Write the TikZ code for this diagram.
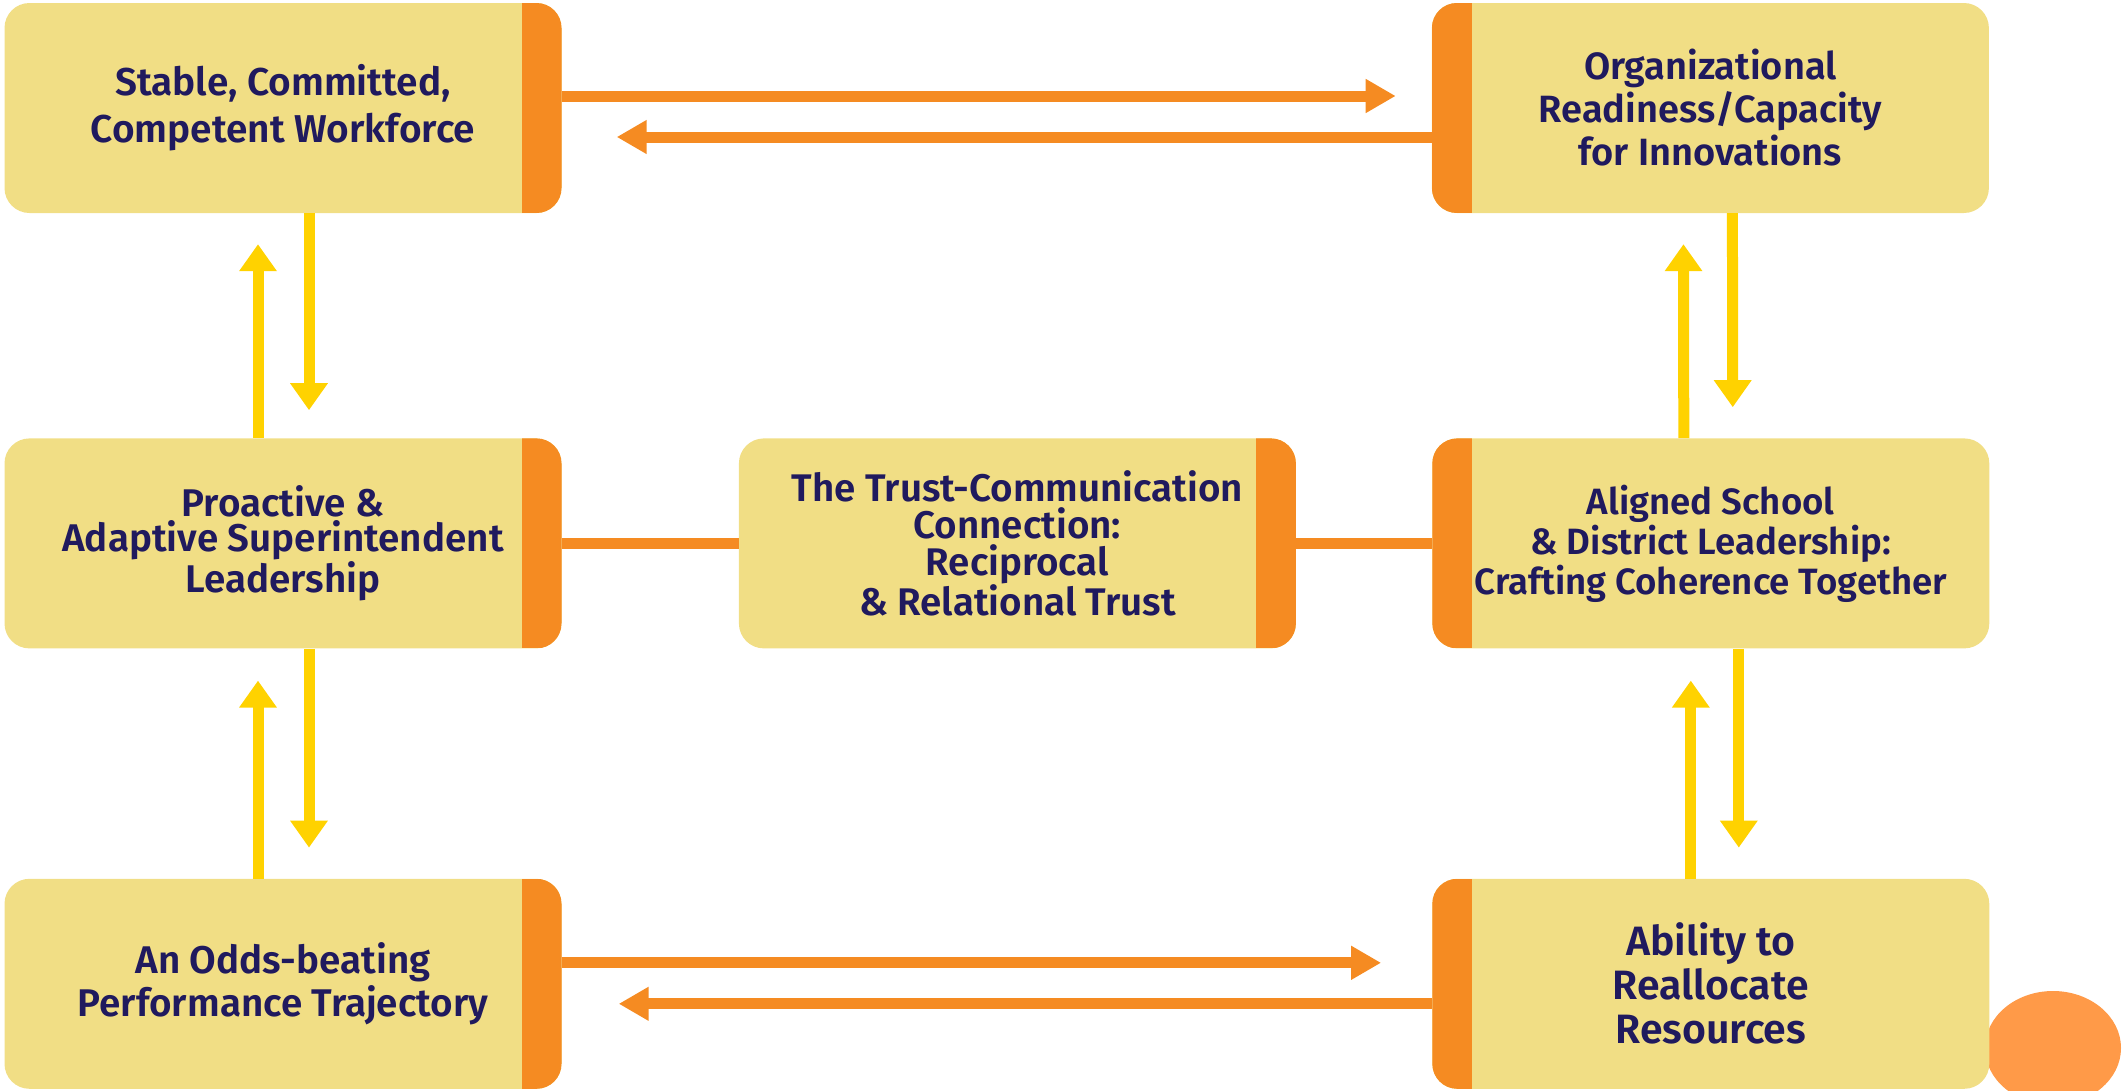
\documentclass[tikz,border=0pt]{standalone}
\usepackage{fontspec}
\setmainfont{Fira Sans}[BoldFont={Fira Sans SemiBold}]
\usetikzlibrary{arrows.meta,positioning}

\definecolor{boxfill}{HTML}{F1DE85}
\definecolor{bandorange}{HTML}{F58B22}
\definecolor{arrowyellow}{HTML}{FFD200}
\definecolor{navy}{HTML}{201A5E}
\definecolor{dotorange}{HTML}{FF9A48}

\tikzset{
  box/.style={rounded corners=25pt, fill=boxfill, minimum width=557pt,
    minimum height=210pt, inner sep=0pt, align=center, text=navy,
    font=\bfseries\fontsize{38}{43}\selectfont},
  lines/.style 2 args={font=\bfseries\fontsize{#1}{#2}\selectfont},
  band right/.style={path picture={\fill[bandorange, sharp corners]
    ([xshift=-40pt]path picture bounding box.north east)
    rectangle (path picture bounding box.south east);}},
  band left/.style={path picture={\fill[bandorange, sharp corners]
    (path picture bounding box.north west)
    rectangle ([xshift=40pt]path picture bounding box.south west);}},
  oarr/.style={draw=bandorange, -{Triangle[width=32pt,length=30pt]}},
  yarr/.style={draw=arrowyellow, -{Triangle[width=36pt,length=27pt]}},
  oline/.style={draw=bandorange}
}

\begin{document}
\begin{tikzpicture}[x=1pt,y=-1pt]
  \useasboundingbox (0,0) rectangle (2128,1090);
  \fill[dotorange] (2053,1048) ellipse [x radius=68, y radius=57];
  \begin{scope}[every node/.style={box}]
    \node[band right, lines={38.8}{47}] (W) at (283,108) {Stable, Committed,\\Competent Workforce};
    \node[band left, lines={38}{43}] (O) [right=870pt of W] {Organizational\\Readiness/Capacity\\for Innovations};
    \node[band right, lines={38.6}{35}] (S) [below=225pt of W] {Proactive \&\\Adaptive Superintendent\\Leadership};
    \node[band left, band right, lines={38.5}{37}] (T) [right=177pt of S] {The Trust-Communication\\Connection:\\Reciprocal\\\& Relational Trust};
    \node[band left, lines={36.6}{40}] (A) [right=136pt of T] {Aligned School\\\& District Leadership:\\Crafting Coherence Together};
    \node[band right, lines={38.6}{43}] (P) [below=230pt of S] {An Odds-beating\\Performance Trajectory};
    \node[band left, lines={41}{44}] (R) [below=230pt of A] {Ability to\\Reallocate\\Resources};
  \end{scope}
  \begin{scope}[every edge/.style={draw, line width=11pt}]
    \path ([yshift=12pt]W.east) edge[oarr, shorten >=36pt] ([yshift=12pt]O.west);
    \path ([yshift=-29pt]O.west) edge[oarr, shorten >=55pt] ([yshift=-29pt]W.east);
    \path ([yshift=21pt]P.east) edge[oarr, shorten >=51pt] ([yshift=21pt]R.west);
    \path ([yshift=-20pt]R.west) edge[oarr, shorten >=57pt] ([yshift=-20pt]P.east);
    \path (S.east) edge[oline] (T.west);
    \path (T.east) edge[oline] (A.west);
    \path ([xshift=-25pt]S.north) edge[yarr, shorten >=31pt] ([xshift=-25pt]W.south);
    \path ([xshift=26pt]W.south) edge[yarr, shorten >=28pt] ([xshift=26pt]S.north);
    \path ([xshift=-25pt]P.north) edge[yarr, shorten >=32pt] ([xshift=-25pt]S.south);
    \path ([xshift=26pt]S.south) edge[yarr, shorten >=31pt] ([xshift=26pt]P.north);
    \path ([xshift=-27pt]A.north) edge[yarr, shorten >=31pt] ([xshift=-27pt]O.south);
    \path ([xshift=22pt]O.south) edge[yarr, shorten >=31pt] ([xshift=22pt]A.north);
    \path ([xshift=-20pt]R.north) edge[yarr, shorten >=32pt] ([xshift=-20pt]A.south);
    \path ([xshift=28pt]A.south) edge[yarr, shorten >=31pt] ([xshift=28pt]R.north);
  \end{scope}
\end{tikzpicture}
\end{document}
